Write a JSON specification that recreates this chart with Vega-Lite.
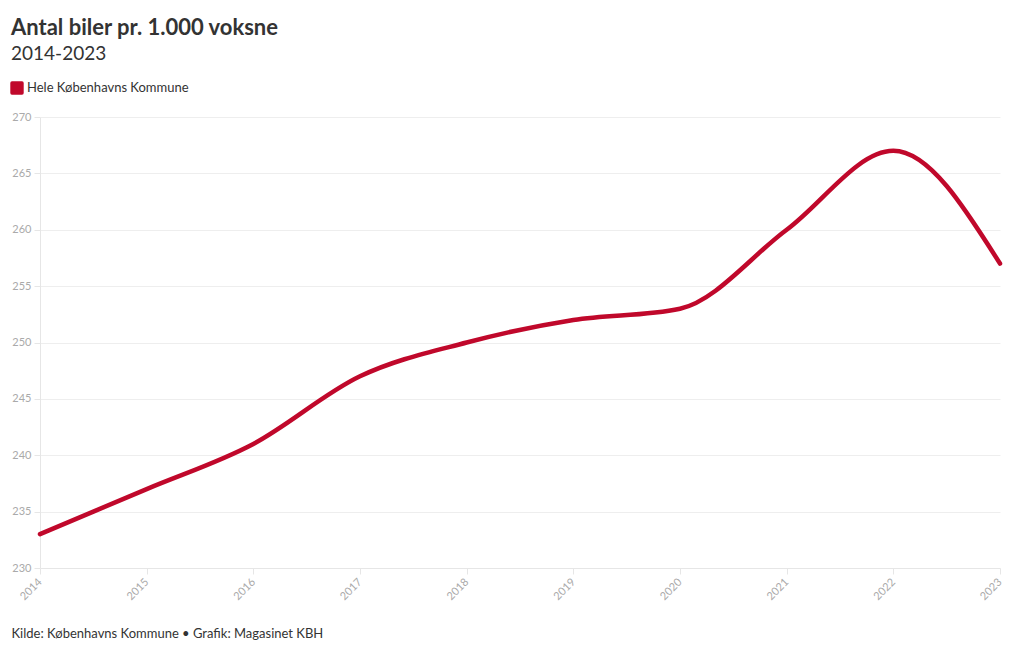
{
  "$schema": "https://vega.github.io/schema/vega-lite/v6.json",
  "width": 960,
  "height": 451,
  "autosize": {"type": "none"},
  "padding": {"left": 40, "top": 117, "right": 20, "bottom": 82},
  "background": "white",
  "config": {
    "font": "Lato",
    "view": {"stroke": null}
  },
  "title": {
    "text": "Antal biler pr. 1.000 voksne",
    "subtitle": "2014-2023",
    "anchor": "start",
    "frame": "group",
    "dx": -29,
    "offset": 16,
    "font": "Lato",
    "fontSize": 22,
    "fontWeight": "bold",
    "color": "#333333",
    "subtitleFont": "Lato",
    "subtitleFontSize": 19,
    "subtitleColor": "#333333",
    "subtitlePadding": 5
  },
  "data": {
    "values": [
      {"year": 2014, "value": 233, "series": "Hele Københavns Kommune"},
      {"year": 2015, "value": 237, "series": "Hele Københavns Kommune"},
      {"year": 2016, "value": 241, "series": "Hele Københavns Kommune"},
      {"year": 2017, "value": 247, "series": "Hele Københavns Kommune"},
      {"year": 2018, "value": 250, "series": "Hele Københavns Kommune"},
      {"year": 2019, "value": 252, "series": "Hele Københavns Kommune"},
      {"year": 2020, "value": 253, "series": "Hele Københavns Kommune"},
      {"year": 2021, "value": 260, "series": "Hele Københavns Kommune"},
      {"year": 2022, "value": 267, "series": "Hele Københavns Kommune"},
      {"year": 2023, "value": 257, "series": "Hele Københavns Kommune"}
    ]
  },
  "mark": {"type": "line", "interpolate": "monotone", "strokeWidth": 4.5, "strokeCap": "round"},
  "encoding": {
    "x": {
      "field": "year",
      "type": "quantitative",
      "scale": {"domain": [2014, 2023], "nice": false, "zero": false},
      "axis": {
        "title": "Kilde: Københavns Kommune • Grafik: Magasinet KBH",
        "titleFont": "Lato",
        "titleFontSize": 13,
        "titleFontWeight": "normal",
        "titleColor": "#333333",
        "titleAnchor": "start",
        "titleAlign": "left",
        "titleX": -29,
        "titleY": 59,
        "values": [2014, 2015, 2016, 2017, 2018, 2019, 2020, 2021, 2022, 2023],
        "format": "d",
        "labelAngle": -45,
        "labelAlign": "right",
        "labelBaseline": "middle",
        "labelFontSize": 11,
        "labelColor": "#aaaaaa",
        "labelPadding": 6,
        "domainColor": "#e6e6e6",
        "tickColor": "#e6e6e6",
        "tickSize": 6,
        "grid": false
      }
    },
    "y": {
      "field": "value",
      "type": "quantitative",
      "scale": {"domain": [230, 270], "nice": false, "zero": false},
      "axis": {
        "title": null,
        "values": [230, 235, 240, 245, 250, 255, 260, 265, 270],
        "labelFontSize": 11,
        "labelColor": "#aaaaaa",
        "labelPadding": 3,
        "domainColor": "#e6e6e6",
        "tickColor": "#e6e6e6",
        "tickSize": 6,
        "gridColor": "#eeeeee"
      }
    },
    "color": {
      "field": "series",
      "type": "nominal",
      "scale": {"range": ["#c0082b"]},
      "legend": {
        "title": null,
        "orient": "none",
        "legendX": -30,
        "legendY": -36,
        "symbolType": "M-0.75,-1L0.75,-1Q1,-1 1,-0.75L1,0.75Q1,1 0.75,1L-0.75,1Q-1,1 -1,0.75L-1,-0.75Q-1,-1 -0.75,-1Z",
        "symbolSize": 180,
        "symbolStrokeWidth": 0,
        "symbolFillColor": "#c0082b",
        "symbolOpacity": 1,
        "labelFontSize": 13,
        "labelColor": "#333333",
        "labelOffset": 3,
        "labelLimit": 400
      }
    }
  }
}
